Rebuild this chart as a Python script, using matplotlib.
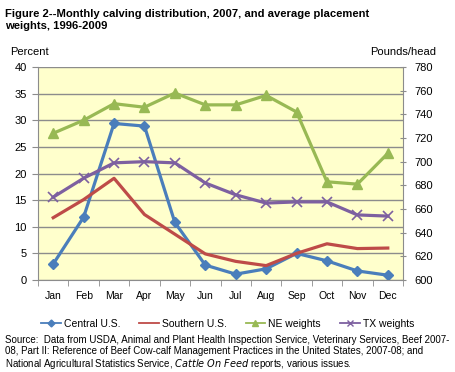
import matplotlib.pyplot as plt
from matplotlib.lines import Line2D

plt.rcParams['font.family'] = ['Liberation Sans', 'DejaVu Sans']

# --- dados ---
months = ['Jan', 'Feb', 'Mar', 'Apr', 'May', 'Jun', 'Jul', 'Aug', 'Sep', 'Oct', 'Nov', 'Dec']
central = [3.0, 11.8, 29.4, 28.9, 10.8, 2.8, 1.1, 2.1, 5.0, 3.6, 1.7, 0.9]
southern = [11.7, 15.1, 19.1, 12.3, 8.6, 4.9, 3.5, 2.7, 5.0, 6.8, 5.9, 6.0]
ne_weights = [724, 735, 749, 746, 758, 748, 748, 756, 742, 683, 681, 707]
tx_weights = [670, 686, 699, 700, 699, 682, 672, 665, 666, 666, 655, 654]

c_blue = '#4A7EBB'
c_red = '#BE4B48'
c_green = '#98B954'
c_purple = '#7D60A0'

fig = plt.figure(figsize=(4.55, 3.72), dpi=100)
ax = fig.add_axes([38/455, 1 - 280/372, 365/455, 213/372])
ax2 = ax.twinx()

x = list(range(len(months)))

ax.set_facecolor('#FFFFCC')
ax.set_ylim(0, 40)
ax.set_yticks(range(0, 41, 5))
ax.set_xlim(-0.5, 11.5)
ax.grid(axis='y', color='#8C8C8C', linewidth=1)
ax.set_axisbelow(True)

ax.plot(x, central, color=c_blue, lw=2.3, marker='D', ms=5.5)
ax.plot(x, southern, color=c_red, lw=2.3)
ax2.plot(x, ne_weights, color=c_green, lw=2.3, marker='^', ms=7)
ax2.plot(x, tx_weights, color=c_purple, lw=2.3, marker='x', ms=7, mew=1.2)

ax2.set_ylim(600, 780)
ax2.set_yticks(range(600, 781, 20))

# eixos
for a in (ax, ax2):
    for s in a.spines.values():
        s.set_visible(False)
ax.spines['left'].set_visible(True)
ax.spines['bottom'].set_visible(True)
ax2.spines['right'].set_visible(True)
for s in ('left', 'bottom'):
    ax.spines[s].set_color('#8C8C8C')
ax2.spines['right'].set_color('#8C8C8C')

ax.set_xticks(x)
ax.set_xticklabels(months)
ax.set_xticks([i + 0.5 for i in range(-1, 12)], minor=True)
ax.tick_params(axis='x', which='major', length=0, pad=8, labelsize=7.5)
ax.tick_params(axis='x', which='minor', length=4, color='#8C8C8C', direction='out')
ax.tick_params(axis='y', length=4, color='#8C8C8C', labelsize=8, pad=4)
ax2.tick_params(axis='y', length=4, color='#8C8C8C', direction='inout', labelsize=8, pad=6)

fig.text(10/455, 1 - 52/372, 'Percent', fontsize=8, va='center')
fig.text(436/455, 1 - 52/372, 'Pounds/head', fontsize=8, va='center', ha='right')

fig.text(5/455, 1 - 20/372, 'Figure 2--Monthly calving distribution, 2007, and average placement\nweights, 1996-2009',
         fontsize=8.1, fontweight='bold', va='center', linespacing=1.25)

# legenda com linhas finas e marcadores pequenos
handles = [
    Line2D([], [], color=c_blue, lw=1.3, marker='D', ms=3.5),
    Line2D([], [], color=c_red, lw=1.3),
    Line2D([], [], color=c_green, lw=1.3, marker='^', ms=4.5),
    Line2D([], [], color=c_purple, lw=1.3, marker='x', ms=4.5, mew=1),
]
labels = ['Central U.S.', 'Southern U.S.', 'NE weights', 'TX weights']
fig.legend(handles, labels, loc='center', bbox_to_anchor=(0.5, 1 - 324/372), ncol=4,
           frameon=False, fontsize=7.5, handlelength=1.9, handletextpad=0.3, columnspacing=1.8)

fig.text(5/455, 1 - 353/372,
         'Source:  Data from USDA, Animal and Plant Health Inspection Service, Veterinary Services, Beef 2007-\n'
         '08, Part II: Reference of Beef Cow-calf Management Practices in the United States, 2007-08; and\n'
         'National Agricultural Statistics Service, $\\it{Cattle\\ On\\ Feed}$ reports, various issues.',
         fontsize=7, va='center', linespacing=1.15)

fig.savefig('out.png', dpi=100)
